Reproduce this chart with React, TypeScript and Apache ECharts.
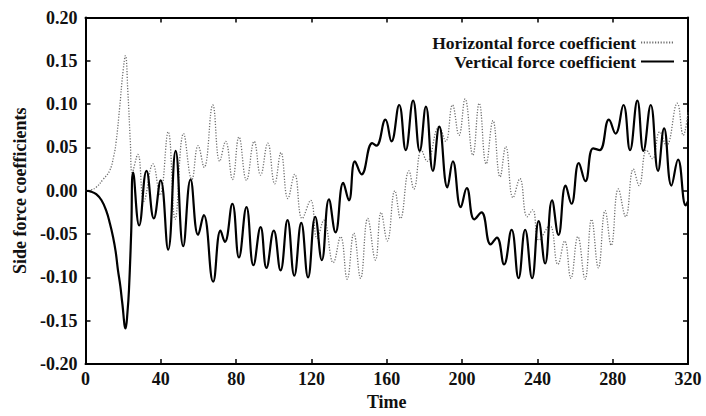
import React, { useEffect, useRef } from "react";
import * as echarts from "echarts";

// Horizontal force coefficient (dotted) — time / value pairs
const hTime = [0, 3, 5.7, 9.3, 12.8, 15, 16.3, 18.1, 19.9, 21.2, 22.5, 23.8, 24.8, 27.8, 31, 35.8, 39.5, 43.9, 47.6, 52.1, 56.5, 59.8, 63.0, 67.6, 71.3, 74.4, 78.1, 81.5, 85.5, 89.6, 93.0, 96.8, 100.5, 103.8, 107.5, 111.1, 115.1, 119.6, 123, 126.6, 131.6, 135.5, 139, 142.5, 146.1, 149.9, 154, 157, 160.3, 164.3, 167.3, 171.8, 174.4, 178.4, 181.4, 187.8, 191.3, 194.9, 198.4, 201.6, 205.7, 209.1, 212.8, 216.4, 220.2, 223.2, 227.1, 230.7, 234.6, 237.5, 240.8, 246.5, 250.9, 254.5, 257.8, 261.5, 265.3, 268.8, 272.4, 276, 279.2, 283, 286.9, 291, 294, 298, 301.1, 305, 308.5, 314.3, 317.5, 320];
const hValue = [0, 0.001, 0.004, 0.013, 0.023, 0.04, 0.057, 0.095, 0.137, 0.156, 0.114, 0.057, 0.021, 0.042, -0.012, 0.031, -0.005, 0.068, -0.033, 0.066, 0.013, 0.052, 0.027, 0.099, 0.034, 0.057, 0.013, 0.062, 0.012, 0.057, 0.018, 0.055, 0.008, 0.044, -0.009, 0.019, -0.032, -0.011, -0.055, -0.034, -0.083, -0.053, -0.102, -0.049, -0.101, -0.032, -0.08, -0.025, -0.058, 0.0, -0.032, 0.023, 0.002, 0.047, 0.034, 0.074, 0.057, 0.099, 0.064, 0.106, 0.041, 0.101, 0.031, 0.081, 0.016, 0.051, -0.008, 0.014, -0.03, -0.022, -0.057, -0.04, -0.085, -0.058, -0.101, -0.053, -0.102, -0.033, -0.089, -0.023, -0.063, 0.002, -0.03, 0.025, 0.006, 0.047, 0.037, 0.068, 0.052, 0.101, 0.064, 0.09];

// Vertical force coefficient (solid)
const vTime = [0, 3, 5.7, 8.5, 11, 13, 14.6, 16, 17.2, 18.5, 19.5, 21.3, 22.3, 23.1, 24.3, 25.3, 28.5, 32.4, 36.3, 39.9, 43.9, 47.9, 51.9, 55.8, 59.8, 62.8, 67.8, 71.7, 74.0, 78.0, 81.5, 85.5, 89.2, 93.0, 96.1, 100.0, 103.6, 107.3, 110.9, 114.6, 118.2, 122.0, 125.5, 129.3, 132.8, 136.9, 139.9, 143.1, 146.6, 152.3, 154.5, 159.3, 162.5, 166.6, 170.1, 174.0, 177.5, 180.8, 184.5, 187.9, 192.2, 195.1, 199.3, 202.5, 206.5, 210.3, 215.2, 218.5, 222.3, 226.3, 230.0, 233.5, 237.2, 240.7, 244.1, 247.8, 251.2, 255.0, 258.1, 262.0, 265.5, 269.6, 273.1, 278.0, 281.5, 285.7, 289.2, 293.1, 296.3, 300.2, 304.1, 307.3, 311.2, 314.7, 318.8, 320];
const vValue = [0, -0.001, -0.004, -0.011, -0.023, -0.038, -0.053, -0.07, -0.091, -0.11, -0.129, -0.159, -0.14, -0.114, -0.046, 0.021, -0.04, 0.023, -0.032, 0.012, -0.068, 0.046, -0.064, 0.013, -0.051, -0.028, -0.105, -0.046, -0.059, -0.015, -0.077, -0.019, -0.086, -0.042, -0.089, -0.046, -0.092, -0.034, -0.098, -0.037, -0.1, -0.03, -0.08, -0.01, -0.048, 0.009, -0.011, 0.034, 0.019, 0.055, 0.052, 0.082, 0.057, 0.099, 0.047, 0.104, 0.046, 0.097, 0.023, 0.074, 0.004, 0.034, -0.019, 0.003, -0.033, -0.025, -0.062, -0.054, -0.085, -0.045, -0.101, -0.045, -0.101, -0.035, -0.084, -0.011, -0.051, 0.006, -0.015, 0.032, 0.011, 0.049, 0.047, 0.082, 0.066, 0.099, 0.047, 0.104, 0.046, 0.099, 0.023, 0.072, 0.006, 0.036, -0.017, -0.012];

const seriesNames = ["Horizontal force coefficient", "Vertical force coefficient"];
const xTicks = { min: 0, max: 320, step: 40 };
const yTicks = { min: -0.2, max: 0.2, step: 0.05 };

const FONT = '"Liberation Serif", "Times New Roman", serif';

export default function App() {
  const ref = useRef<HTMLDivElement>(null);
  useEffect(() => {
    if (!ref.current) return;
    const chart = echarts.init(ref.current, undefined, { renderer: "svg" });
    const hData = hTime.map((t, i) => [t, hValue[i]]);
    const vData = vTime.map((t, i) => [t, vValue[i]]);
    const axisLine = { show: true, onZero: false, lineStyle: { color: "#000", width: 2 } };
    const tick = { show: true, inside: true, length: 5, lineStyle: { color: "#000", width: 1.5 } };
    chart.setOption({
      animation: false,
      backgroundColor: "#fff",
      grid: { left: 85.5, right: 18, top: 17.5, bottom: 48 },
      legend: {
        orient: "vertical",
        align: "right",
        right: 26,
        top: 28,
        itemWidth: 33,
        itemHeight: 10,
        itemGap: 0,
        itemStyle: { opacity: 0 },
        textStyle: { fontFamily: FONT, fontWeight: "bold", fontSize: 17.5, lineHeight: 19, color: "#111" },
        data: seriesNames,
      },
      xAxis: [
        {
          type: "value",
          min: xTicks.min,
          max: xTicks.max,
          interval: xTicks.step,
          position: "bottom",
          axisLine,
          axisTick: tick,
          splitLine: { show: false },
          axisLabel: { fontFamily: FONT, fontWeight: "bold", fontSize: 18, color: "#111", margin: 6 },
          name: "Time",
          nameLocation: "middle",
          nameGap: 29,
          nameTextStyle: { fontFamily: FONT, fontWeight: "bold", fontSize: 18, color: "#111" },
        },
        {
          type: "value",
          min: xTicks.min,
          max: xTicks.max,
          interval: xTicks.step,
          position: "top",
          axisLine,
          axisTick: tick,
          splitLine: { show: false },
          axisLabel: { show: false },
        },
      ],
      yAxis: [
        {
          type: "value",
          min: yTicks.min,
          max: yTicks.max,
          interval: yTicks.step,
          position: "left",
          axisLine,
          axisTick: tick,
          splitLine: { show: false },
          axisLabel: {
            fontFamily: FONT,
            fontWeight: "bold",
            fontSize: 18,
            color: "#111",
            margin: 8,
            formatter: (v: number) => v.toFixed(2),
          },
          name: "Side force coefficients",
          nameLocation: "middle",
          nameGap: 56,
          nameTextStyle: { fontFamily: FONT, fontWeight: "bold", fontSize: 18, color: "#111" },
        },
        {
          type: "value",
          min: yTicks.min,
          max: yTicks.max,
          interval: yTicks.step,
          position: "right",
          axisLine,
          axisTick: tick,
          splitLine: { show: false },
          axisLabel: { show: false },
        },
      ],
      series: [
        {
          name: seriesNames[0],
          type: "line",
          data: hData,
          symbol: "none",
          smooth: 0.45,
          lineStyle: { color: "#6e6e6e", width: 1.3, type: [1.2, 1.6] },
          itemStyle: { color: "#6e6e6e" },
          z: 2,
        },
        {
          name: seriesNames[1],
          type: "line",
          data: vData,
          symbol: "none",
          smooth: 0.45,
          lineStyle: { color: "#000", width: 2.2 },
          itemStyle: { color: "#000" },
          z: 3,
        },
      ],
    });
    return () => chart.dispose();
  }, []);
  return (
    <div
      ref={ref}
      style={{ position: "fixed", left: 0, top: 0, width: 706, height: 416, background: "#fff" }}
    />
  );
}
